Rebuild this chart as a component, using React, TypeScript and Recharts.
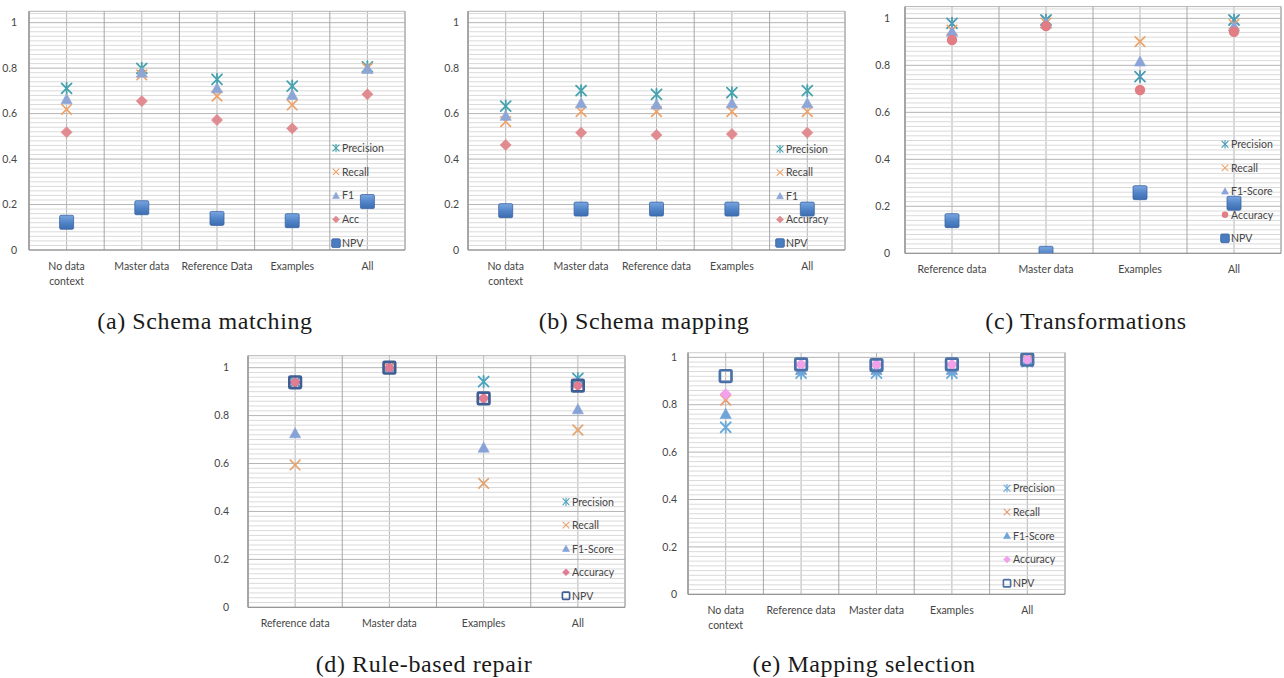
import React from 'react';
import { ScatterChart, Scatter, XAxis, YAxis, CartesianGrid, ReferenceLine } from 'recharts';

// ---------- DATA ----------
const catsA = ['No data\ncontext', 'Master data', 'Reference Data', 'Examples', 'All'];
const precisionA = [0.711, 0.799, 0.751, 0.721, 0.806];
const recallA = [0.619, 0.77, 0.677, 0.638, 0.8];
const f1A = [0.663, 0.78, 0.711, 0.682, 0.796];
const accA = [0.518, 0.655, 0.572, 0.535, 0.685];
const npvA = [0.122, 0.186, 0.139, 0.129, 0.213];

const catsB = ['No data\ncontext', 'Master data', 'Reference data', 'Examples', 'All'];
const precisionB = [0.633, 0.701, 0.685, 0.692, 0.701];
const recallB = [0.565, 0.609, 0.609, 0.609, 0.609];
const f1B = [0.59, 0.645, 0.64, 0.645, 0.645];
const accB = [0.462, 0.516, 0.506, 0.51, 0.516];
const npvB = [0.173, 0.18, 0.18, 0.18, 0.18];

const catsC = ['Reference data', 'Master data', 'Examples', 'All'];
const precisionC = [0.979, 0.993, 0.752, 0.993];
const recallC = [0.95, 0.98, 0.901, 0.975];
const f1C = [0.943, 0.979, 0.816, 0.965];
const accC = [0.908, 0.967, 0.695, 0.943];
const npvC = [0.139, 0.0, 0.258, 0.213];

const catsD = ['Reference data', 'Master data', 'Examples', 'All'];
const precisionD = [0.94, 1.0, 0.942, 0.955];
const recallD = [0.594, 1.0, 0.517, 0.74];
const f1D = [0.726, 1.0, 0.666, 0.826];
const accD = [0.939, 1.0, 0.872, 0.925];
const npvD = [0.939, 1.0, 0.872, 0.925];

const catsE = ['No data\ncontext', 'Reference data', 'Master data', 'Examples', 'All'];
const precisionE = [0.705, 0.933, 0.933, 0.933, 0.982];
const recallE = [0.82, 0.95, 0.95, 0.95, 0.99];
const f1E = [0.761, 0.947, 0.947, 0.947, 0.986];
const accE = [0.845, 0.97, 0.97, 0.97, 0.99];
const npvE = [0.921, 0.97, 0.967, 0.97, 0.99];

const yTicks = [0, 0.2, 0.4, 0.6, 0.8, 1];
const minorStep = 0.02;

const namesShort = ['Precision', 'Recall', 'F1', 'Acc', 'NPV'];
const namesMid = ['Precision', 'Recall', 'F1', 'Accuracy', 'NPV'];
const namesLong = ['Precision', 'Recall', 'F1-Score', 'Accuracy', 'NPV'];

// ---------- STYLE ----------
const FONT = 'Lato, "Open Sans", "Liberation Sans", sans-serif';
const TICK_COLOR = '#454545';

type Kind = 'star' | 'cross' | 'tri' | 'diamond' | 'circle' | 'square' | 'hollow';

function Mark({ kind, cx, cy, color, gid, scale = 1 }: any) {
  if (cx == null || cy == null) return null;
  const s = scale;
  switch (kind as Kind) {
    case 'star': {
      const r = 5 * s;
      return (
        <g stroke={color} strokeWidth={1.8 * s} strokeLinecap="round">
          <line x1={cx - r} y1={cy - r} x2={cx + r} y2={cy + r} />
          <line x1={cx - r} y1={cy + r} x2={cx + r} y2={cy - r} />
          <line x1={cx} y1={cy - r - 0.6} x2={cx} y2={cy + r + 0.6} />
        </g>
      );
    }
    case 'cross': {
      const r = 4.8 * s;
      return (
        <g stroke={color} strokeWidth={1.7 * s} strokeLinecap="round">
          <line x1={cx - r} y1={cy - r} x2={cx + r} y2={cy + r} />
          <line x1={cx - r} y1={cy + r} x2={cx + r} y2={cy - r} />
        </g>
      );
    }
    case 'tri': {
      const w = 5.6 * s;
      const h = 5.6 * s;
      return (
        <polygon
          points={`${cx},${cy - h} ${cx + w},${cy + h * 0.8} ${cx - w},${cy + h * 0.8}`}
          fill={color}
          stroke={color}
          strokeWidth={0.6}
          strokeLinejoin="round"
        />
      );
    }
    case 'diamond': {
      const r = 5.6 * s;
      return (
        <polygon
          points={`${cx},${cy - r} ${cx + r},${cy} ${cx},${cy + r} ${cx - r},${cy}`}
          fill={color}
          stroke={color}
          strokeWidth={0.6}
          strokeLinejoin="round"
        />
      );
    }
    case 'circle':
      return <circle cx={cx} cy={cy} r={5.2 * s} fill={color} />;
    case 'square': {
      const h = 7 * s;
      return (
        <rect
          x={cx - h}
          y={cy - h}
          width={2 * h}
          height={2 * h}
          rx={1.4}
          fill={gid ? `url(#${gid})` : color}
          stroke="#3b66a3"
          strokeWidth={0.8}
        />
      );
    }
    case 'hollow': {
      const h = 5.8 * s;
      return (
        <rect
          x={cx - h}
          y={cy - h}
          width={2 * h}
          height={2 * h}
          rx={1}
          fill="none"
          stroke={color}
          strokeWidth={2.7 * s}
        />
      );
    }
  }
  return null;
}

type Series = { name: string; values: number[]; kind: Kind; color: string };

type Panel = {
  id: string;
  cats: string[];
  series: Series[];
  box: { left: number; top: number; width: number; height: number };
  plot: { left: number; right: number; top: number; bottom: number };
  yMax: number;
  yGap: number;
  legend: { mx: number; tx: number; y0: number; step: number };
  caption: { text: string; cx: number; base: number };
};

function makeSeries(names: string[], vals: number[][], kinds: Kind[], colors: string[]): Series[] {
  return names.map((n, i) => ({ name: n, values: vals[i], kind: kinds[i], color: colors[i] }));
}

const kindsAB: Kind[] = ['star', 'cross', 'tri', 'diamond', 'square'];
const colorsAB = ['#46a2ae', '#f0a166', '#8ea6d6', '#e08b90', '#4a7cc0'];
const kindsC: Kind[] = ['star', 'cross', 'tri', 'circle', 'square'];
const colorsC = ['#4a9cb6', '#eea366', '#8aa3d8', '#e27d84', '#4a7cc0'];
const kindsD: Kind[] = ['star', 'cross', 'tri', 'diamond', 'hollow'];
const colorsD = ['#4aa3bd', '#e4a46e', '#86a2d6', '#e07c94', '#3f5f94'];
const kindsE: Kind[] = ['star', 'cross', 'tri', 'diamond', 'hollow'];
const colorsE = ['#6aaad8', '#e69a6e', '#6ea4d8', '#f2a2ea', '#4c71a8'];

const panels: Panel[] = [
  {
    id: 'a',
    cats: catsA,
    series: makeSeries(namesShort, [precisionA, recallA, f1A, accA, npvA], kindsAB, colorsAB),
    box: { left: 0, top: 0, width: 415, height: 300 },
    plot: { left: 29, right: 405, top: 11.3, bottom: 250 },
    yMax: 1.05,
    yGap: 12,
    legend: { mx: 336, tx: 342, y0: 148, step: 23.8 },
    caption: { text: '(a) Schema matching', cx: 205, base: 329 },
  },
  {
    id: 'b',
    cats: catsB,
    series: makeSeries(namesMid, [precisionB, recallB, f1B, accB, npvB], kindsAB, colorsAB),
    box: { left: 420, top: 0, width: 435, height: 300 },
    plot: { left: 468, right: 845, top: 11.3, bottom: 250 },
    yMax: 1.05,
    yGap: 9,
    legend: { mx: 780, tx: 786, y0: 149, step: 23.5 },
    caption: { text: '(b) Schema mapping', cx: 644, base: 329 },
  },
  {
    id: 'c',
    cats: catsC,
    series: makeSeries(namesLong, [precisionC, recallC, f1C, accC, npvC], kindsC, colorsC),
    box: { left: 850, top: 0, width: 434, height: 300 },
    plot: { left: 905, right: 1281, top: 6.6, bottom: 253.3 },
    yMax: 1.05,
    yGap: 15,
    legend: { mx: 1225, tx: 1231, y0: 144.3, step: 23.5 },
    caption: { text: '(c) Transformations', cx: 1086, base: 329 },
  },
  {
    id: 'd',
    cats: catsD,
    series: makeSeries(namesLong, [precisionD, recallD, f1D, accD, npvD], kindsD, colorsD),
    box: { left: 200, top: 340, width: 430, height: 300 },
    plot: { left: 248, right: 625, top: 355.7, bottom: 607.3 },
    yMax: 1.05,
    yGap: 19,
    legend: { mx: 566, tx: 572, y0: 501.7, step: 23.5 },
    caption: { text: '(d) Rule-based repair', cx: 424, base: 672 },
  },
  {
    id: 'e',
    cats: catsE,
    series: makeSeries(namesLong, [precisionE, recallE, f1E, accE, npvE], kindsE, colorsE),
    box: { left: 620, top: 340, width: 455, height: 300 },
    plot: { left: 688, right: 1065, top: 352.6, bottom: 594.3 },
    yMax: 1.02,
    yGap: 11,
    legend: { mx: 1007, tx: 1013, y0: 488.3, step: 23.75 },
    caption: { text: '(e) Mapping selection', cx: 864, base: 672 },
  },
];

function renderCatTick(props: any, cats: string[]) {
  const { x, y, payload } = props;
  const label = cats[payload.value] ?? '';
  const lines = label.split('\n');
  return (
    <text x={x} y={y} textAnchor="middle" fontFamily={FONT} fontSize={10.5} fill={TICK_COLOR}>
      {lines.map((l: string, i: number) => (
        <tspan key={i} x={x} dy={i === 0 ? 20 : 14.5}>
          {l}
        </tspan>
      ))}
    </text>
  );
}

function PanelChart({ p }: { p: Panel }) {
  const n = p.cats.length;
  const idx = p.cats.map((_, i) => i);
  const bounds = Array.from({ length: n + 1 }, (_, i) => i - 0.5);
  const minor: number[] = [];
  for (let k = 1; k * minorStep <= p.yMax + 1e-9; k++) {
    const v = +(k * minorStep).toFixed(2);
    if (Math.abs(v * 5 - Math.round(v * 5)) > 1e-6) minor.push(v);
  }
  const margin = {
    top: p.plot.top - p.box.top,
    right: p.box.left + p.box.width - p.plot.right,
    left: 0,
    bottom: 0,
  };
  const yW = p.plot.left - p.box.left;
  const xH = p.box.top + p.box.height - p.plot.bottom;
  const gid = `npvgrad-${p.id}`;
  return (
    <div style={{ position: 'absolute', left: p.box.left, top: p.box.top }}>
      <ScatterChart width={p.box.width} height={p.box.height} margin={margin}>
        <defs>
          <linearGradient id={gid} x1="0" y1="0" x2="0" y2="1">
            <stop offset="0%" stopColor="#7aa6e0" />
            <stop offset="55%" stopColor="#4f82c6" />
            <stop offset="100%" stopColor="#3d6db0" />
          </linearGradient>
        </defs>
        {minor.map((v) => (
          <ReferenceLine key={'m' + v} y={v} stroke="#dadada" strokeWidth={1} ifOverflow="extendDomain" />
        ))}
        <CartesianGrid stroke="#b4b4b4" strokeWidth={1} horizontal vertical />
        {bounds.map((b) => (
          <ReferenceLine key={'b' + b} x={b} stroke="#a6a6a6" strokeWidth={1} />
        ))}
        <XAxis
          type="number"
          dataKey="x"
          domain={[-0.5, n - 0.5]}
          ticks={idx}
          interval={0}
          allowDataOverflow
          height={xH}
          tickLine={false}
          tickSize={0}
          tickMargin={0}
          axisLine={{ stroke: '#8c8c8c' }}
          tick={(props: any) => renderCatTick(props, p.cats)}
        />
        <YAxis
          type="number"
          dataKey="y"
          domain={[0, p.yMax]}
          ticks={yTicks}
          interval={0}
          allowDataOverflow
          width={yW}
          tickLine={false}
          tickSize={0}
          tickMargin={p.yGap}
          axisLine={{ stroke: '#8c8c8c' }}
          tick={{ fontFamily: FONT, fontSize: 10.5, fill: TICK_COLOR }}
        />
        {p.series.map((s) => (
          <Scatter
            key={s.name}
            name={s.name}
            data={s.values.map((v, i) => ({ x: i, y: v }))}
            dataKey="y"
            isAnimationActive={false}
            shape={(props: any) => (
              <Mark kind={s.kind} cx={props.cx} cy={props.cy} color={s.color} gid={s.kind === 'square' ? gid : undefined} />
            )}
          />
        ))}
      </ScatterChart>
    </div>
  );
}

function Overlay() {
  return (
    <svg
      width={1284}
      height={678}
      style={{ position: 'absolute', left: 0, top: 0, pointerEvents: 'none' }}
    >
      {panels.map((p) => (
        <g key={'lg' + p.id}>
          {p.series.map((s, i) => {
            const cy = p.legend.y0 + i * p.legend.step;
            return (
              <g key={s.name}>
                <Mark kind={s.kind} cx={p.legend.mx} cy={cy} color={s.color} scale={0.62} />
                <text
                  x={p.legend.tx}
                  y={cy + 3.8}
                  fontFamily={FONT}
                  fontSize={10.5}
                  fill={TICK_COLOR}
                >
                  {s.name}
                </text>
              </g>
            );
          })}
        </g>
      ))}
      {panels.map((p) => (
        <text
          key={'cap' + p.id}
          x={p.caption.cx}
          y={p.caption.base}
          textAnchor="middle"
          fontFamily='"Liberation Serif", "Times New Roman", serif'
          fontSize={24}
          letterSpacing={0.6}
          fill="#1a1a1a"
        >
          {p.caption.text}
        </text>
      ))}
    </svg>
  );
}

export default function App() {
  return (
    <div
      style={{
        position: 'absolute',
        left: 0,
        top: 0,
        width: 1284,
        height: 678,
        background: '#ffffff',
        overflow: 'hidden',
      }}
    >
      {panels.map((p) => (
        <PanelChart key={p.id} p={p} />
      ))}
      <Overlay />
    </div>
  );
}
